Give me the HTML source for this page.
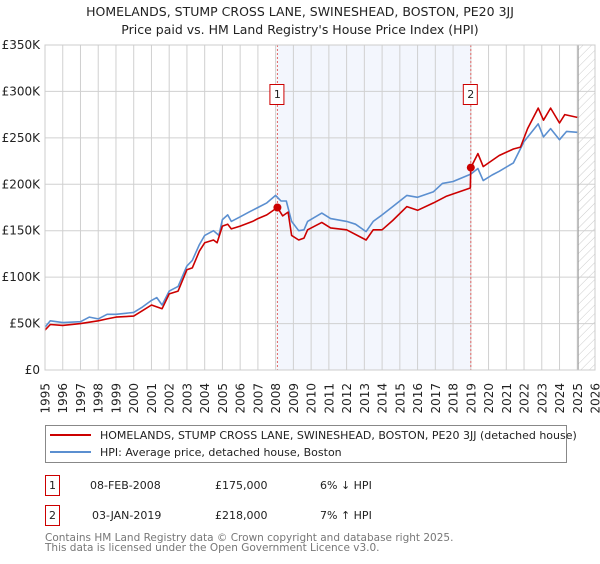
<!DOCTYPE html>
<html><head><meta charset="utf-8"><style>
body{margin:0;background:#fff;font-family:"DejaVu Sans","Liberation Sans",sans-serif;}
svg text{font-family:"DejaVu Sans","Liberation Sans",sans-serif;}
</style></head><body>
<svg id="c" width="600" height="560" viewBox="0 0 600 560" xmlns="http://www.w3.org/2000/svg">
<text x="300" y="16" text-anchor="middle" font-size="12.5" fill="#222">HOMELANDS, STUMP CROSS LANE, SWINESHEAD, BOSTON, PE20 3JJ</text>
<text x="300" y="34" text-anchor="middle" font-size="12.5" fill="#222">Price paid vs. HM Land Registry's House Price Index (HPI)</text>
<g id="plot"></g>
<g>
<rect x="45.5" y="425.5" width="521" height="37" fill="#fff" stroke="#888"/>
<line x1="50" y1="435" x2="91" y2="435" stroke="#cc0000" stroke-width="2"/>
<text x="100" y="439" font-size="11" fill="#222">HOMELANDS, STUMP CROSS LANE, SWINESHEAD, BOSTON, PE20 3JJ (detached house)</text>
<line x1="50" y1="452" x2="91" y2="452" stroke="#5b8fd0" stroke-width="2"/>
<text x="100" y="456" font-size="11" fill="#222">HPI: Average price, detached house, Boston</text>
</g>
<g font-size="11" fill="#222">
<rect x="45.5" y="475.5" width="14" height="20" fill="#fff" stroke="#cc0000"/>
<text x="52.5" y="489" text-anchor="middle">1</text>
<text x="90" y="489">08-FEB-2008</text>
<text x="215" y="489">£175,000</text>
<text x="320" y="489">6% ↓ HPI</text>
<rect x="45.5" y="505.5" width="14" height="20" fill="#fff" stroke="#cc0000"/>
<text x="52.5" y="519" text-anchor="middle">2</text>
<text x="92" y="519">03-JAN-2019</text>
<text x="215" y="519">£218,000</text>
<text x="320" y="519">7% ↑ HPI</text>
</g>
<text x="45" y="541" font-size="10.5" fill="#777">Contains HM Land Registry data © Crown copyright and database right 2025.</text>
<text x="45" y="551" font-size="10.5" fill="#777">This data is licensed under the Open Government Licence v3.0.</text>
</svg>
<script>
const yTicks=[0,50,100,150,200,250,300,350];
const yTickLabels=["£0","£50K","£100K","£150K","£200K","£250K","£300K","£350K"];
const years=[1995,1996,1997,1998,1999,2000,2001,2002,2003,2004,2005,2006,2007,2008,2009,2010,2011,2012,2013,2014,2015,2016,2017,2018,2019,2020,2021,2022,2023,2024,2025,2026];
const hpiT=[1995,1995.3,1996,1997,1997.5,1998,1998.5,1999,2000,2000.5,2001,2001.3,2001.6,2002,2002.5,2003,2003.3,2003.7,2004,2004.5,2004.8,2005,2005.3,2005.5,2006,2006.5,2007,2007.5,2008,2008.3,2008.6,2008.9,2009.3,2009.6,2009.8,2010.6,2011.1,2012,2012.5,2013.1,2013.5,2014,2014.6,2015.4,2016,2016.9,2017.4,2018,2019,2019.4,2019.7,2020.2,2020.6,2021.4,2022,2022.8,2023.1,2023.5,2024,2024.4,2025];
const hpiV=[46,53,51,52,57,55,60,60,62,68,75,78,70,85,90,112,118,135,145,150,145,162,167,160,165,170,175,180,188,182,182,160,150,151,160,169,163,160,157,149,160,167,176,188,186,192,201,203,211,217,204,210,214,223,246,265,251,260,248,257,256];
const ppT=[1995,1995.3,1996,1997,1998,1998.5,1999,2000,2000.5,2001,2001.6,2002,2002.5,2003,2003.3,2003.7,2004,2004.5,2004.7,2005,2005.3,2005.5,2006,2006.7,2007,2007.5,2008.1,2008.4,2008.7,2008.9,2009.3,2009.6,2009.8,2010.6,2011.1,2012,2013.1,2013.5,2014,2014.6,2015.4,2016,2016.9,2017.6,2018.97,2019.0,2019.4,2019.7,2020.6,2021.4,2021.8,2022.2,2022.8,2023.1,2023.5,2024,2024.3,2025];
const ppV=[43,49,48,50,53,55,57,58,64,70,66,82,85,108,110,128,137,140,137,155,157,152,155,160,163,167,175,166,170,145,140,142,151,159,153,151,140,151,151,161,176,172,180,187,196,218,233,219,231,238,240,260,282,269,282,266,275,272];
const sales=[{n:"1",t:2008.1,v:175},{n:"2",t:2019.0,v:218}];
const X0=45,X1=595,Y0=370,Y1=45;
const x=t=>X0+(t-1995)/(2026-1995)*(X1-X0);
const y=v=>Y0-v/350*(Y0-Y1);
const NS="http://www.w3.org/2000/svg";
const g=document.getElementById('plot');
function mk(tag,attrs,parent){const e=document.createElementNS(NS,tag);for(const k in attrs)e.setAttribute(k,attrs[k]);(parent||g).appendChild(e);return e;}
// shaded region between sales
let sh=mk('rect',{x:x(2008.1),y:Y1,width:x(2019.0)-x(2008.1),height:Y0-Y1,fill:'#eef2fc',opacity:0.7});


// hatch
const defs=mk('defs',{});
const pat=mk('pattern',{id:'h',width:6,height:6,patternUnits:'userSpaceOnUse',patternTransform:'rotate(45)'},defs);
mk('line',{x1:0,y1:0,x2:0,y2:6,stroke:'#ccc','stroke-width':1},pat);
let hr=mk('rect',{x:x(2025.05),y:Y1,width:X1-x(2025.05),height:Y0-Y1,fill:'url(#h)'});


// grid
years.forEach(yr=>{
 const l=mk('line',{x1:x(yr),x2:x(yr),y1:Y1,y2:Y0,stroke:'#d0d0d0','stroke-width':1});
 
 
 const t=mk('text',{x:0,y:0,transform:`translate(${x(yr)+4.5},383) rotate(-90)`,'text-anchor':'end','font-size':12,fill:'#222'});
 t.textContent=yr;
 
 
});
yTicks.forEach((v,i)=>{
 const l=mk('line',{x1:X0,x2:X1,y1:y(v),y2:y(v),stroke:'#d0d0d0','stroke-width':1});
 
 
 const t=mk('text',{x:40,y:y(v)+4,'text-anchor':'end','font-size':12,fill:'#222'});
 t.textContent=yTickLabels[i];
 
 
});
mk('line',{x1:x(2025.05),x2:x(2025.05),y1:Y1,y2:Y0,stroke:'#999','stroke-width':1});
// sale vlines
sales.forEach(s=>{
 const l=mk('line',{x1:x(s.t),x2:x(s.t),y1:Y1,y2:Y0,stroke:'#e06666','stroke-width':1,'stroke-dasharray':'2,2'});
 
 
 const b=mk('rect',{x:x(s.t)-7.5,y:84.5,width:14,height:20,fill:'#fff',stroke:'#cc0000'});
 
 
 const t=mk('text',{x:x(s.t),y:98,'text-anchor':'middle','font-size':11,fill:'#222'});
 t.textContent=s.n;
 
 
});
function path(T,V){return T.map((t,i)=>(i?'L':'M')+x(t).toFixed(1)+','+y(V[i]).toFixed(1)).join('');}
const hp=mk('path',{d:path(hpiT,hpiV),fill:'none',stroke:'#5b8fd0','stroke-width':1.6,'stroke-linejoin':'round'});


const pp=mk('path',{d:path(ppT,ppV),fill:'none',stroke:'#cc0000','stroke-width':1.6,'stroke-linejoin':'round'});


sales.forEach(s=>{
 const c=mk('circle',{cx:x(s.t),cy:y(s.v),r:4,fill:'#cc0000'});
 
 
});
mk('rect',{x:X0,y:Y1,width:X1-X0,height:Y0-Y1,fill:'none',stroke:'#ccc'});
</script>
</body></html>
